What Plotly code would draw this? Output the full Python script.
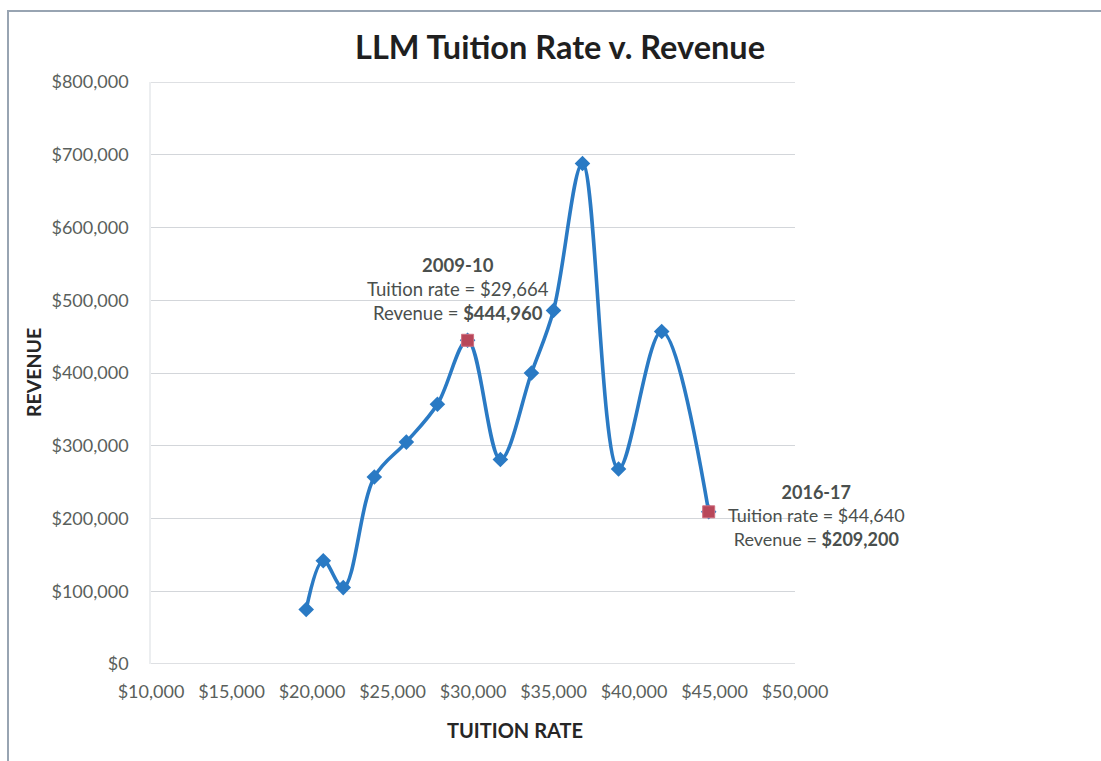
import plotly.graph_objects as go

# Annual LLM tuition rate vs. revenue, 2003-04 through 2016-17
years = ["2003-04", "2004-05", "2005-06", "2006-07", "2007-08", "2008-09", "2009-10",
         "2010-11", "2011-12", "2012-13", "2013-14", "2014-15", "2015-16", "2016-17"]
tuition = [19640, 20700, 21940, 23870, 25860, 27790, 29664,
           31700, 33630, 35000, 36800, 39040, 41720, 44640]
revenue = [75000, 142000, 105000, 257000, 305000, 357000, 444960,
           281000, 400000, 486000, 688000, 268000, 457000, 209200]

highlight = ["2009-10", "2016-17"]
x_ticks = list(range(10000, 50001, 5000))
y_ticks = list(range(0, 800001, 100000))

W, H = 1101, 761
L, R, T, B = 151, 1101 - 795, 82, 761 - 664
PW, PH = W - L - R, H - T - B

def px(x):
    return (x - L) / PW

def py(y):
    return (H - B - y) / PH

BLUE = "#2a7ac4"
RED = "#b8475a"
GRID = "#d3d6da"
TICK = "#5a5f5c"
FONT = "Lato, 'Open Sans', sans-serif"

fig = go.Figure()
fig.add_trace(go.Scatter(
    x=tuition, y=revenue, mode="lines+markers",
    line=dict(color=BLUE, width=3.6, shape="spline", smoothing=1.0),
    marker=dict(symbol="diamond", size=12, color=BLUE),
    hovertext=years, showlegend=False,
))
hx = [tuition[years.index(h)] for h in highlight]
hy = [revenue[years.index(h)] for h in highlight]
fig.add_trace(go.Scatter(
    x=hx, y=hy, mode="markers",
    marker=dict(symbol="square", size=12, color=RED, line=dict(color="#d07080", width=1)),
    hovertext=highlight, showlegend=False,
))

def fmt(v):
    return "${:,}".format(v)

annotations = []
i = years.index("2009-10")
annotations.append(dict(
    xref="paper", yref="paper", x=px(458), y=py(289), xanchor="center", yanchor="middle",
    text=("<b>%s</b><br>Tuition rate = %s<br>Revenue = <b>%s</b>"
          % (years[i], fmt(tuition[i]), fmt(revenue[i]))),
    showarrow=False, align="center",
    font=dict(family=FONT, size=18.5, color="#4a4f4d"),
))
i = years.index("2016-17")
annotations.append(dict(
    xref="paper", yref="paper", x=px(816), y=py(515), xanchor="center", yanchor="middle",
    text=("<b>%s</b><br>Tuition rate = %s<br>Revenue = <b>%s</b>"
          % (years[i], fmt(tuition[i]), fmt(revenue[i]))),
    showarrow=False, align="center",
    font=dict(family=FONT, size=18, color="#4a4f4d"),
))
annotations.append(dict(
    xref="paper", yref="paper", x=px(33), y=py(372), textangle=-90,
    xanchor="center", yanchor="middle", showarrow=False,
    text="<b>REVENUE</b>", font=dict(family=FONT, size=19.5, color="#262626"),
))
annotations.append(dict(
    xref="paper", yref="paper", x=px(515), y=py(730),
    xanchor="center", yanchor="middle", showarrow=False,
    text="<b>TUITION RATE</b>", font=dict(family=FONT, size=20, color="#262626"),
))
annotations.append(dict(
    xref="paper", yref="paper", x=px(560), y=py(46),
    xanchor="center", yanchor="middle", showarrow=False,
    text="<b>LLM Tuition Rate v. Revenue</b>", font=dict(family=FONT, size=32.5, color="#1f1f1f"),
))

shapes = [
    # outer chart frame
    dict(type="rect", xref="paper", yref="paper",
         x0=px(8), x1=px(1110), y0=py(780), y1=py(11),
         line=dict(color="#98a4b2", width=2), fillcolor="rgba(0,0,0,0)", layer="below"),
]
# gridlines at the range ends, which the axis itself leaves out
for v in (y_ticks[0], y_ticks[-1]):
    shapes.append(dict(type="line", xref="paper", yref="y", x0=0, x1=1, y0=v, y1=v,
                       line=dict(color=GRID, width=1.3), layer="below"))

fig.update_layout(
    width=W, height=H,
    margin=dict(l=L, r=R, t=T, b=B),
    paper_bgcolor="white", plot_bgcolor="white",
    font=dict(family=FONT, color=TICK),
    annotations=annotations, shapes=shapes,
    xaxis=dict(
        range=[10000, 50000], tickvals=x_ticks, ticktext=[fmt(v) for v in x_ticks],
        showgrid=False, zeroline=False, showline=False, ticks="",
        ticklabelstandoff=15, tickfont=dict(size=18, color=TICK),
    ),
    yaxis=dict(
        range=[0, 800000], tickvals=y_ticks, ticktext=[fmt(v) for v in y_ticks],
        showgrid=True, gridcolor=GRID, gridwidth=1.3, zeroline=False,
        showline=True, linecolor="#eceef0", linewidth=1.5, ticks="",
        ticklabelstandoff=17, tickfont=dict(size=18, color=TICK),
    ),
)

fig.write_html("out.html")
